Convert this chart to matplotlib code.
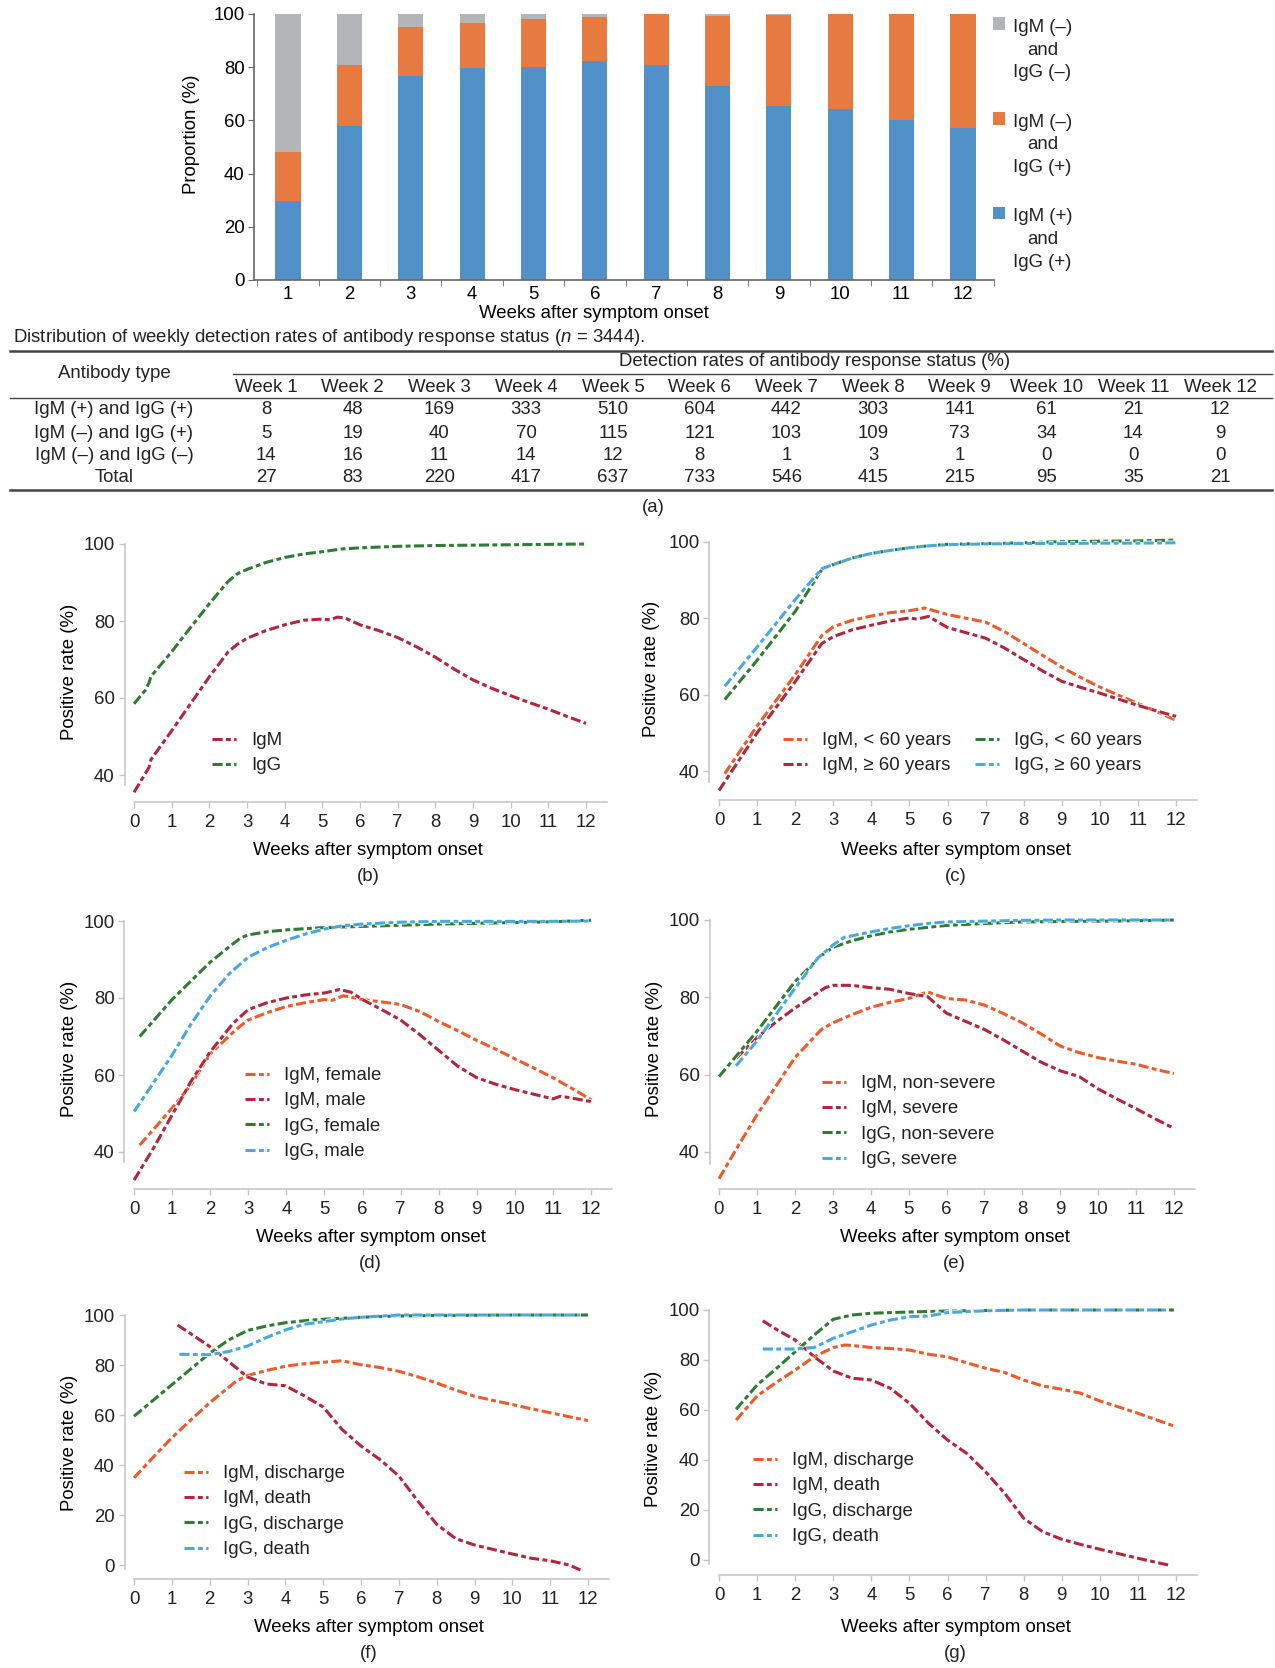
import numpy as np
import matplotlib
matplotlib.use('Agg')
import matplotlib.pyplot as plt
import matplotlib.patheffects as pe
from matplotlib.lines import Line2D

plt.rcParams['font.family'] = ['Liberation Sans', 'DejaVu Sans']
plt.rcParams['mathtext.fontset'] = 'custom'
plt.rcParams['mathtext.it'] = 'Liberation Sans:italic'
plt.rcParams['mathtext.rm'] = 'Liberation Sans'
plt.rcParams['font.size'] = 13.4
plt.rcParams['text.color'] = '#222222'
FS = 13.4

# ---- datos de la tabla (a) ----
weeks = np.arange(1, 13)
week_labels = ['Week %d' % w for w in weeks]
row_names = ['IgM (+) and IgG (+)', 'IgM (–) and IgG (+)', 'IgM (–) and IgG (–)', 'Total']
pos_pos = [8, 48, 169, 333, 510, 604, 442, 303, 141, 61, 21, 12]
neg_pos = [5, 19, 40, 70, 115, 121, 103, 109, 73, 34, 14, 9]
neg_neg = [14, 16, 11, 14, 12, 8, 1, 3, 1, 0, 0, 0]
totals = [27, 83, 220, 417, 637, 733, 546, 415, 215, 95, 35, 21]

# ---- curvas (b) ----
b_igm_x = [0, 0.4, 0.45, 1, 1.5, 2, 2.5, 2.75, 3, 3.5, 4, 4.5, 5, 5.2, 5.4, 5.6, 6, 6.5, 7, 7.5, 8, 8.5, 9, 9.5, 10, 10.5, 11, 11.5, 12]
b_igm_y = [35.5, 42, 44, 51.5, 58.5, 65.5, 72, 74, 75.5, 77.5, 79, 80.2, 80.5, 80.3, 81, 80.8, 79, 77.5, 75.7, 73.3, 70.6, 67.5, 64.7, 62.5, 60.6, 58.8, 57.1, 55.2, 53.4]
b_igg_x = [0, 0.3, 0.4, 0.45, 1, 1.5, 2, 2.5, 2.75, 3, 3.5, 4, 4.5, 5, 5.5, 6, 7, 8, 9, 10, 11, 12]
b_igg_y = [58.5, 62, 64, 65.6, 72, 78.3, 84.5, 90.3, 92.3, 93.4, 95.2, 96.5, 97.4, 98, 98.7, 99, 99.4, 99.6, 99.7, 99.8, 99.9, 100]

# ---- curvas (c) ----
c_igm_young_x = [0.15, 1, 2, 2.7, 3, 3.5, 4, 4.5, 5, 5.4, 6, 6.5, 7, 7.5, 8, 8.5, 9, 9.5, 10, 10.5, 11, 11.5, 12]
c_igm_young_y = [39.3, 51.8, 65.2, 75.5, 77.8, 79.5, 80.6, 81.5, 82, 82.7, 81, 80, 79, 76.5, 73.4, 70.3, 67.2, 64.5, 62, 59.8, 57.7, 55.5, 53.3]
c_igm_old_x = [0, 1, 2, 2.7, 3, 3.5, 4, 4.5, 5, 5.2, 5.5, 6, 6.5, 7, 7.5, 8, 8.5, 9, 9.5, 10, 10.5, 11, 11.5, 12]
c_igm_old_y = [34.9, 50, 63.4, 73.4, 75.2, 77, 78.2, 79.3, 80.1, 79.8, 80.5, 77.6, 76.2, 74.8, 72.2, 69.2, 66.2, 63.5, 61.9, 60.4, 58.8, 57.2, 55.7, 54.3]
c_igg_young_x = [0.15, 1, 2, 2.7, 3, 3.5, 4, 4.5, 5, 5.5, 6, 7, 8, 9, 10, 11, 12]
c_igg_young_y = [58.7, 69, 81.8, 92.8, 94.1, 95.8, 97, 97.8, 98.5, 99, 99.4, 99.6, 99.8, 100.1, 100.2, 100.3, 100.5]
c_igg_old_x = [0.15, 1, 2, 2.7, 3, 3.5, 4, 4.5, 5, 5.5, 6, 7, 8, 9, 10, 11, 12]
c_igg_old_y = [62.2, 72.5, 84.9, 93, 94.1, 95.8, 97, 97.8, 98.5, 99, 99.3, 99.5, 99.6, 99.6, 99.7, 99.7, 99.8]

# ---- curvas (d) ----
d_igm_f_x = [0.15, 1, 1.5, 2, 2.7, 3, 3.5, 4, 4.5, 5, 5.2, 5.5, 6, 6.5, 7, 7.5, 8, 8.5, 9, 9.5, 10, 10.5, 11, 11.5, 12]
d_igm_f_y = [41.8, 51.4, 57.5, 65.5, 72, 74.3, 76.2, 77.8, 78.8, 79.6, 79.4, 80.6, 79.6, 79, 78.3, 76.5, 73.9, 71.5, 69, 66.7, 64.2, 61.8, 59.3, 56.5, 53.6]
d_igm_m_x = [0, 0.5, 1, 1.5, 2, 2.6, 3, 3.5, 4, 4.5, 5, 5.4, 5.7, 6, 6.5, 7, 7.5, 8, 8.5, 9, 9.5, 10, 10.5, 11, 11.2, 11.5, 12]
d_igm_m_y = [32.7, 40.8, 49.6, 58.4, 66, 73.4, 77, 78.8, 80, 80.8, 81.3, 82.2, 81.5, 79.6, 77, 74.3, 70.5, 66.4, 62.3, 59.3, 57.6, 56.2, 55, 53.8, 54.5, 54, 53.1]
d_igg_f_x = [0.15, 1, 2, 2.5, 2.8, 3, 3.5, 4, 5, 6, 7, 8, 9, 10, 11, 12]
d_igg_f_y = [70, 79.6, 89.3, 93.3, 95.6, 96.4, 97.2, 97.7, 98.3, 98.6, 98.9, 99.2, 99.4, 99.6, 99.8, 100.2]
d_igg_m_x = [0, 0.5, 1, 1.5, 2, 2.5, 3, 3.5, 4, 4.5, 5, 5.5, 6, 7, 8, 9, 10, 11, 12]
d_igg_m_y = [50.5, 57.8, 65.2, 73.3, 80.5, 86.3, 90.6, 93.1, 95, 96.6, 97.9, 98.8, 99.2, 99.7, 99.9, 99.9, 99.9, 99.9, 100]

# ---- curvas (e) ----
e_igm_ns_x = [0, 0.5, 1, 1.5, 2, 2.7, 3, 3.5, 4, 4.5, 5, 5.5, 6, 6.5, 7, 7.5, 8, 8.5, 9, 9.5, 10, 10.5, 11, 11.5, 12]
e_igm_ns_y = [33.1, 41.5, 49.6, 57, 64.4, 71.7, 73.4, 75.5, 77.4, 78.7, 79.7, 81.4, 79.7, 79.3, 78, 75.8, 73.4, 70.5, 67.4, 65.7, 64.4, 63.5, 62.7, 61.4, 60.3]
e_igm_s_x = [0.45, 1, 1.5, 2, 2.5, 2.8, 3, 3.5, 4, 4.5, 5, 5.5, 6, 6.5, 7, 7.5, 8, 8.5, 9, 9.5, 10, 10.5, 11, 11.5, 12]
e_igm_s_y = [64.2, 69.6, 73.6, 77.2, 80.5, 82.5, 83.1, 83.1, 82.5, 82.1, 81, 80.2, 75.9, 73.8, 71.7, 69, 66.1, 63.2, 61, 59.5, 56.3, 53.7, 51.2, 48.6, 46.1]
e_igg_ns_x = [0, 1, 2, 2.7, 3, 3.5, 4, 4.5, 5, 6, 7, 8, 9, 10, 11, 12]
e_igg_ns_y = [59.5, 71.2, 84, 90.8, 92.9, 94.6, 95.9, 96.9, 97.6, 98.6, 99.1, 99.5, 99.6, 99.7, 99.8, 100]
e_igg_s_x = [0.45, 1, 2, 2.6, 3, 3.3, 4, 4.5, 5, 5.5, 6, 7, 8, 9, 10, 11, 12]
e_igg_s_y = [62.3, 68.7, 82.3, 90.1, 93.5, 95.5, 96.9, 97.8, 98.5, 99.1, 99.5, 99.7, 99.9, 100, 100, 100, 100]

# ---- curvas (f) ----
f_igm_dis_x = [0, 0.5, 1, 1.5, 2, 2.7, 3, 3.5, 4, 4.5, 5, 5.5, 6, 6.5, 7, 7.5, 8, 8.5, 9, 9.5, 10, 10.5, 11, 11.5, 12]
f_igm_dis_y = [34.9, 43, 50.9, 58, 64.9, 73.5, 75.8, 77.8, 79.5, 80.5, 81.1, 81.7, 80.1, 79, 77.5, 75.3, 72.8, 70, 67.5, 65.8, 64.2, 62.5, 60.9, 59.3, 57.8]
f_igm_dth_x = [1.15, 1.5, 2, 2.5, 3, 3.5, 4, 4.5, 5, 5.5, 6, 6.5, 7, 7.5, 8, 8.5, 9, 9.5, 10, 10.5, 11, 11.5, 11.8]
f_igm_dth_y = [96, 92.5, 87.4, 81.4, 75.2, 72.4, 71.7, 67.7, 63.2, 54.2, 47.6, 42.2, 35.6, 25.6, 16.3, 10.6, 8, 6.2, 4.4, 2.7, 1.7, 0, -2]
f_igg_dis_x = [0, 1, 2, 2.5, 3, 3.5, 4, 4.5, 5, 6, 7, 8, 9, 10, 11, 12]
f_igg_dis_y = [59.5, 72.1, 84.7, 90, 93.8, 95.6, 96.9, 97.7, 98.3, 99.1, 99.6, 99.8, 99.9, 100, 100, 100]
f_igg_dth_x = [1.2, 2, 2.5, 3, 3.5, 4, 4.5, 5, 5.5, 6, 7, 8, 9, 10, 11, 11.8]
f_igg_dth_y = [84.3, 84.1, 85.4, 87.6, 91, 94, 96.3, 97.3, 98.4, 99.1, 100, 100, 100, 100, 100, 100]

# ---- curvas (g) ----
g_igm_dis_x = [0.45, 1, 1.5, 2, 2.5, 3, 3.3, 3.5, 4, 4.5, 5, 5.5, 6, 6.5, 7, 7.5, 8, 8.5, 9, 9.5, 10, 10.5, 11, 11.5, 12]
g_igm_dis_y = [56, 65.6, 71, 76, 81.3, 85, 86, 85.8, 85, 84.6, 84, 82.3, 81.3, 78.9, 76.7, 75, 72, 69.6, 68.3, 66.7, 63.6, 61.2, 58.7, 56, 53.3]
g_igm_dth_x = [1.15, 1.5, 2, 2.5, 3, 3.5, 4, 4.5, 5, 5.5, 6, 6.5, 7, 7.5, 8, 8.5, 9, 9.5, 10, 10.5, 11, 11.5, 11.8]
g_igm_dth_y = [95.7, 92.3, 88, 81.3, 75.6, 72.7, 72, 68.7, 62.7, 54.7, 48, 42.7, 35.3, 26.7, 16.7, 11.3, 8.3, 6.2, 4.3, 2.5, 0.7, -1, -2]
g_igg_dis_x = [0.45, 1, 1.5, 2, 2.5, 3, 3.5, 4, 5, 6, 7, 8, 9, 10, 11, 12]
g_igg_dis_y = [60.3, 70, 76.5, 83.3, 90, 96.3, 98, 98.7, 99.2, 99.6, 99.8, 100, 100, 100, 100, 100]
g_igg_dth_x = [1.15, 2, 2.5, 3, 3.5, 4, 4.5, 5, 5.5, 6, 7, 8, 9, 10, 11, 11.8]
g_igg_dth_y = [84.4, 84.4, 85, 88.7, 91.3, 94, 96, 97.3, 97.6, 99, 99.7, 100, 100, 100, 100, 100]

# colores
c_orange = '#f0592a'
c_darkred = '#b5253b'
c_green = '#2f7d34'
c_blue = '#47a9df'
bar_blue = '#5291c8'
bar_orange = '#e77a40'
bar_gray = '#b4b5b7'

W, H = 1275, 1668
fig = plt.figure(figsize=(W / 100, H / 100), dpi=100)


def fx(px):
    return px / W


def fy(py):
    return 1 - py / H


# ================= (a) barras =================
xl_bar, xr_bar = 0.45, 12.5
sxb = (963 - 288) / 11
left = 288 + (xl_bar - 1) * sxb
right = 288 + (xr_bar - 1) * sxb
ax = fig.add_axes([fx(left), fy(280), (right - left) / W, (280 - 14) / H])
p1 = np.array(pos_pos) / np.array(totals) * 100
p2 = np.array(neg_pos) / np.array(totals) * 100
p3 = np.array(neg_neg) / np.array(totals) * 100
h1 = ax.bar(weeks, p1, 0.41, color=bar_blue, label='IgM (+)\nand\nIgG (+)')
h2 = ax.bar(weeks, p2, 0.41, bottom=p1, color=bar_orange, label='IgM (–)\nand\nIgG (+)')
h3 = ax.bar(weeks, p3, 0.41, bottom=p1 + p2, color=bar_gray, label='IgM (–)\nand\nIgG (–)')
ax.set_xlim(xl_bar, xr_bar)
ax.set_ylim(0, 100)
ax.set_yticks(np.arange(0, 101, 20))
ax.set_xticks(weeks)
ax.set_xticks(np.arange(0.5, 12.6, 1), minor=True)
ax.tick_params(axis='x', which='major', length=0, pad=4, labelsize=FS)
ax.tick_params(axis='x', which='minor', length=4, color='#666666', direction='out')
ax.tick_params(axis='y', length=4, color='#666666', pad=3, labelsize=FS)
for s in ['top', 'right']:
    ax.spines[s].set_visible(False)
for s in ['left', 'bottom']:
    ax.spines[s].set_color('#666666')
    ax.spines[s].set_linewidth(1.2)
ax.set_xlabel('Weeks after symptom onset', fontsize=FS)
ax.xaxis.set_label_coords(fx(594), fy(313), transform=fig.transFigure)
ax.xaxis.label.set_va('center')
ax.set_ylabel('Proportion (%)', fontsize=FS)
ax.yaxis.set_label_coords(fx(191), fy(134), transform=fig.transFigure)
ax.yaxis.label.set_va('center')
leg = ax.legend(handles=[h3, h2, h1], loc='upper left', bbox_to_anchor=(fx(993), fy(19)),
                bbox_transform=fig.transFigure, frameon=False, borderpad=0, borderaxespad=0,
                handlelength=0.67, handleheight=0.67, handletextpad=0.4, labelspacing=1.75, fontsize=FS)
for t in leg.get_texts():
    t.set_multialignment('center')
    t.set_linespacing(1.43)
for p in leg.get_patches():
    p.set_y(p.get_y() + 1.43 * FS)

# ================= (a) tabla =================
fig.text(fx(13), fy(338), 'Distribution of weekly detection rates of antibody response status ($n$ = 3444).',
         ha='left', va='center', fontsize=FS)


def hrule(x1, x2, y, lw):
    fig.add_artist(Line2D([fx(x1), fx(x2)], [fy(y), fy(y)], transform=fig.transFigure, color='#444444', lw=lw))


hrule(10, 1272, 351, 1.8)
hrule(233, 1272, 374, 1.0)
hrule(10, 1272, 398, 1.0)
hrule(10, 1272, 490, 1.8)
col_x = np.linspace(266, 1220, 12)
fig.text(fx(114), fy(373), 'Antibody type', ha='center', va='center', fontsize=FS)
fig.text(fx(815), fy(362), 'Detection rates of antibody response status (%)', ha='center', va='center', fontsize=FS)
for cx, lab in zip(col_x, week_labels):
    fig.text(fx(cx), fy(387), lab, ha='center', va='center', fontsize=FS)
row_y = [410, 433, 455, 477]
for ry, name, vals in zip(row_y, row_names, [pos_pos, neg_pos, neg_neg, totals]):
    fig.text(fx(114), fy(ry), name, ha='center', va='center', fontsize=FS)
    for cx, v in zip(col_x, vals):
        fig.text(fx(cx), fy(ry), str(v), ha='center', va='center', fontsize=FS)
fig.text(fx(653), fy(508), '(a)', ha='center', va='center', fontsize=FS)

# ================= paneles de curvas =================
XL, XR, YT = -0.25, 12.55, 101


def line_panel(x0, x12, y100, yref, yref_px, ylo, spine_lo, yticks, tag, xlab_y, tag_y, ylab_x, ylab_y):
    sx = (x12 - x0) / 12
    sy = (yref_px - y100) / (100 - yref)
    l = x0 + XL * sx
    r = x0 + XR * sx
    t = y100 - (YT - 100) * sy
    b = y100 + (100 - ylo) * sy
    a = fig.add_axes([fx(l), fy(b), (r - l) / W, (b - t) / H])
    a.set_xlim(XL, XR)
    a.set_ylim(ylo, YT)
    a.set_xticks(np.arange(0, 13))
    a.set_yticks(yticks)
    for s in ['top', 'right']:
        a.spines[s].set_visible(False)
    for s in ['left', 'bottom']:
        a.spines[s].set_color('#c4c4c4')
        a.spines[s].set_linewidth(1.1)
    a.spines['left'].set_bounds(spine_lo, 100)
    a.spines['bottom'].set_bounds(0, XR)
    a.tick_params(axis='both', direction='out', length=4, width=1, color='#c4c4c4', labelsize=FS, labelcolor='#222222')
    a.tick_params(axis='x', pad=5)
    a.tick_params(axis='y', pad=3)
    a.set_xlabel('Weeks after symptom onset', fontsize=FS)
    a.xaxis.set_label_coords(fx((x0 + x12) / 2 + 8), fy(xlab_y), transform=fig.transFigure)
    a.xaxis.label.set_va('center')
    a.set_ylabel('Positive rate (%)', fontsize=FS)
    a.yaxis.set_label_coords(fx(ylab_x), fy(ylab_y), transform=fig.transFigure)
    a.yaxis.label.set_va('center')
    fig.text(fx((x0 + x12) / 2 + 8), fy(tag_y), tag, ha='center', va='center', fontsize=FS)
    return a


def curve(a, x, y, color, label):
    a.plot(x, y, color=color, lw=2.2, ls=(0, (3.3, 1.1, 1.6, 1.1)), label=label,
           path_effects=[pe.Stroke(linewidth=3.4, foreground='white'), pe.Normal()])


def put_legend(a, hx, row1y, ncol=1):
    a.legend(loc='upper left', bbox_to_anchor=(fx(hx), fy(row1y - 6)), bbox_transform=fig.transFigure,
             frameon=False, borderpad=0, borderaxespad=0, handlelength=1.3, handletextpad=0.8,
             labelspacing=0.45, columnspacing=1.3, ncol=ncol, fontsize=FS)


t40 = [40, 60, 80, 100]
t0 = [0, 20, 40, 60, 80, 100]

# (b)
a = line_panel(134, 586, 544, 40, 775, 33, 37.5, t40, '(b)', 850, 877, 70, 672)
curve(a, b_igm_x, b_igm_y, c_darkred, 'IgM')
curve(a, b_igg_x, b_igg_y, c_green, 'IgG')
put_legend(a, 212, 738)

# (c)
a = line_panel(719, 1176, 542, 40, 771, 32.5, 37, t40, '(c)', 850, 877, 651, 669)
curve(a, c_igm_young_x, c_igm_young_y, c_orange, 'IgM, < 60 years')
curve(a, c_igm_old_x, c_igm_old_y, c_darkred, 'IgM, ≥ 60 years')
curve(a, c_igg_young_x, c_igg_young_y, c_green, 'IgG, < 60 years')
curve(a, c_igg_old_x, c_igg_old_y, c_blue, 'IgG, ≥ 60 years')
put_legend(a, 783, 738, ncol=2)

# (d)
a = line_panel(134, 591, 921, 40, 1152, 30.5, 37.5, t40, '(d)', 1238, 1263, 70, 1049)
curve(a, d_igm_f_x, d_igm_f_y, c_orange, 'IgM, female')
curve(a, d_igm_m_x, d_igm_m_y, c_darkred, 'IgM, male')
curve(a, d_igg_f_x, d_igg_f_y, c_green, 'IgG, female')
curve(a, d_igg_m_x, d_igg_m_y, c_blue, 'IgG, male')
put_legend(a, 245, 1073)

# (e)
a = line_panel(719, 1174, 920, 40, 1152, 30.5, 37, t40, '(e)', 1238, 1263, 655, 1049)
curve(a, e_igm_ns_x, e_igm_ns_y, c_orange, 'IgM, non-severe')
curve(a, e_igm_s_x, e_igm_s_y, c_darkred, 'IgM, severe')
curve(a, e_igg_ns_x, e_igg_ns_y, c_green, 'IgG, non-severe')
curve(a, e_igg_s_x, e_igg_s_y, c_blue, 'IgG, severe')
put_legend(a, 822, 1081)

# (f)
a = line_panel(134, 588, 1315, 0, 1565, -5.5, -1.5, t0, '(f)', 1627, 1653, 70, 1443)
curve(a, f_igm_dis_x, f_igm_dis_y, c_orange, 'IgM, discharge')
curve(a, f_igm_dth_x, f_igm_dth_y, c_darkred, 'IgM, death')
curve(a, f_igg_dis_x, f_igg_dis_y, c_green, 'IgG, discharge')
curve(a, f_igg_dth_x, f_igg_dth_y, c_blue, 'IgG, death')
put_legend(a, 184, 1471)

# (g)
a = line_panel(719, 1176, 1310, 0, 1560, -6, -1.5, t0, '(g)', 1627, 1653, 653, 1439)
curve(a, g_igm_dis_x, g_igm_dis_y, c_orange, 'IgM, discharge')
curve(a, g_igm_dth_x, g_igm_dth_y, c_darkred, 'IgM, death')
curve(a, g_igg_dis_x, g_igg_dis_y, c_green, 'IgG, discharge')
curve(a, g_igg_dth_x, g_igg_dth_y, c_blue, 'IgG, death')
put_legend(a, 753, 1458)

fig.savefig('out.png', dpi=100)
